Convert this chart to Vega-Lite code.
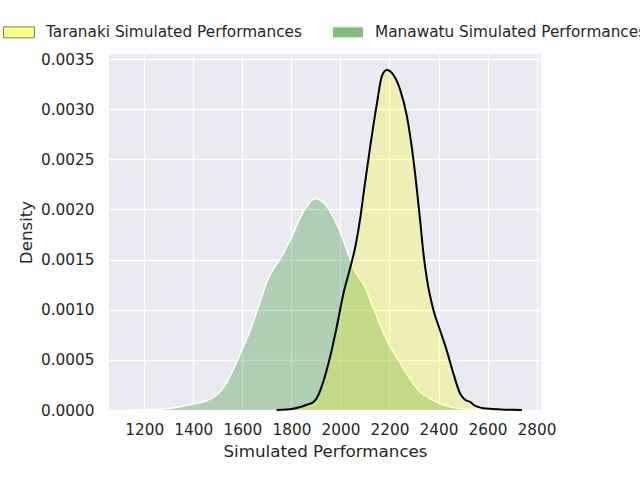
{
  "$schema": "https://vega.github.io/schema/vega-lite/v6.json",
  "width": 432,
  "height": 356,
  "autosize": {"type": "none"},
  "padding": {"left": 109, "top": 54, "right": 99, "bottom": 70},
  "background": "white",
  "config": {
    "view": {"fill": "#eaeaf2", "stroke": null},
    "font": "DejaVu Sans",
    "axis": {
      "grid": true,
      "gridColor": "white",
      "gridWidth": 1.3,
      "domain": false,
      "ticks": false,
      "tickSize": 0,
      "labelColor": "#262626",
      "labelFontSize": 15.3,
      "titleColor": "#262626",
      "titleFontSize": 16.7,
      "titleFontWeight": "normal"
    }
  },
  "data": {
    "values": [
      {"series": "Manawatu Simulated Performances", "x": 1130, "density": 0},
      {"series": "Manawatu Simulated Performances", "x": 1200, "density": 0.000003},
      {"series": "Manawatu Simulated Performances", "x": 1300, "density": 0.000015},
      {"series": "Manawatu Simulated Performances", "x": 1350, "density": 0.000035},
      {"series": "Manawatu Simulated Performances", "x": 1400, "density": 0.00006},
      {"series": "Manawatu Simulated Performances", "x": 1450, "density": 0.00009},
      {"series": "Manawatu Simulated Performances", "x": 1500, "density": 0.00016},
      {"series": "Manawatu Simulated Performances", "x": 1525, "density": 0.00023},
      {"series": "Manawatu Simulated Performances", "x": 1550, "density": 0.00034},
      {"series": "Manawatu Simulated Performances", "x": 1575, "density": 0.00047},
      {"series": "Manawatu Simulated Performances", "x": 1600, "density": 0.00061},
      {"series": "Manawatu Simulated Performances", "x": 1625, "density": 0.00075},
      {"series": "Manawatu Simulated Performances", "x": 1650, "density": 0.00092},
      {"series": "Manawatu Simulated Performances", "x": 1675, "density": 0.0011},
      {"series": "Manawatu Simulated Performances", "x": 1700, "density": 0.00128},
      {"series": "Manawatu Simulated Performances", "x": 1725, "density": 0.0014},
      {"series": "Manawatu Simulated Performances", "x": 1750, "density": 0.00149},
      {"series": "Manawatu Simulated Performances", "x": 1775, "density": 0.0016},
      {"series": "Manawatu Simulated Performances", "x": 1800, "density": 0.00172},
      {"series": "Manawatu Simulated Performances", "x": 1825, "density": 0.00186},
      {"series": "Manawatu Simulated Performances", "x": 1850, "density": 0.00198},
      {"series": "Manawatu Simulated Performances", "x": 1875, "density": 0.00207},
      {"series": "Manawatu Simulated Performances", "x": 1900, "density": 0.00211},
      {"series": "Manawatu Simulated Performances", "x": 1925, "density": 0.00208},
      {"series": "Manawatu Simulated Performances", "x": 1950, "density": 0.00201},
      {"series": "Manawatu Simulated Performances", "x": 1975, "density": 0.0019},
      {"series": "Manawatu Simulated Performances", "x": 2000, "density": 0.00177},
      {"series": "Manawatu Simulated Performances", "x": 2025, "density": 0.0016},
      {"series": "Manawatu Simulated Performances", "x": 2050, "density": 0.00144},
      {"series": "Manawatu Simulated Performances", "x": 2075, "density": 0.00132},
      {"series": "Manawatu Simulated Performances", "x": 2100, "density": 0.00123},
      {"series": "Manawatu Simulated Performances", "x": 2125, "density": 0.00107},
      {"series": "Manawatu Simulated Performances", "x": 2150, "density": 0.00092},
      {"series": "Manawatu Simulated Performances", "x": 2175, "density": 0.00077},
      {"series": "Manawatu Simulated Performances", "x": 2200, "density": 0.00064},
      {"series": "Manawatu Simulated Performances", "x": 2225, "density": 0.00054},
      {"series": "Manawatu Simulated Performances", "x": 2250, "density": 0.00044},
      {"series": "Manawatu Simulated Performances", "x": 2275, "density": 0.00034},
      {"series": "Manawatu Simulated Performances", "x": 2300, "density": 0.00025},
      {"series": "Manawatu Simulated Performances", "x": 2325, "density": 0.00018},
      {"series": "Manawatu Simulated Performances", "x": 2350, "density": 0.00014},
      {"series": "Manawatu Simulated Performances", "x": 2375, "density": 0.0001},
      {"series": "Manawatu Simulated Performances", "x": 2400, "density": 0.00007},
      {"series": "Manawatu Simulated Performances", "x": 2450, "density": 0.00003},
      {"series": "Manawatu Simulated Performances", "x": 2500, "density": 0.000012},
      {"series": "Manawatu Simulated Performances", "x": 2550, "density": 0.000005},
      {"series": "Manawatu Simulated Performances", "x": 2600, "density": 0.000002},
      {"series": "Manawatu Simulated Performances", "x": 2746, "density": 0},
      {"series": "Taranaki Simulated Performances", "x": 1740, "density": 0},
      {"series": "Taranaki Simulated Performances", "x": 1780, "density": 0.000005},
      {"series": "Taranaki Simulated Performances", "x": 1800, "density": 0.00001},
      {"series": "Taranaki Simulated Performances", "x": 1836, "density": 0.00003},
      {"series": "Taranaki Simulated Performances", "x": 1860, "density": 0.00005},
      {"series": "Taranaki Simulated Performances", "x": 1890, "density": 0.00008},
      {"series": "Taranaki Simulated Performances", "x": 1910, "density": 0.00015},
      {"series": "Taranaki Simulated Performances", "x": 1931, "density": 0.00029},
      {"series": "Taranaki Simulated Performances", "x": 1958, "density": 0.00053},
      {"series": "Taranaki Simulated Performances", "x": 1985, "density": 0.00083},
      {"series": "Taranaki Simulated Performances", "x": 2012, "density": 0.00116},
      {"series": "Taranaki Simulated Performances", "x": 2040, "density": 0.00142},
      {"series": "Taranaki Simulated Performances", "x": 2060, "density": 0.00162},
      {"series": "Taranaki Simulated Performances", "x": 2080, "density": 0.0019},
      {"series": "Taranaki Simulated Performances", "x": 2100, "density": 0.00226},
      {"series": "Taranaki Simulated Performances", "x": 2121, "density": 0.00262},
      {"series": "Taranaki Simulated Performances", "x": 2149, "density": 0.00306},
      {"series": "Taranaki Simulated Performances", "x": 2169, "density": 0.00333},
      {"series": "Taranaki Simulated Performances", "x": 2189, "density": 0.00339},
      {"series": "Taranaki Simulated Performances", "x": 2216, "density": 0.00334},
      {"series": "Taranaki Simulated Performances", "x": 2244, "density": 0.00319},
      {"series": "Taranaki Simulated Performances", "x": 2271, "density": 0.00293},
      {"series": "Taranaki Simulated Performances", "x": 2298, "density": 0.00249},
      {"series": "Taranaki Simulated Performances", "x": 2325, "density": 0.00189},
      {"series": "Taranaki Simulated Performances", "x": 2339, "density": 0.00155},
      {"series": "Taranaki Simulated Performances", "x": 2353, "density": 0.0013},
      {"series": "Taranaki Simulated Performances", "x": 2380, "density": 0.00099},
      {"series": "Taranaki Simulated Performances", "x": 2407, "density": 0.00079},
      {"series": "Taranaki Simulated Performances", "x": 2434, "density": 0.00059},
      {"series": "Taranaki Simulated Performances", "x": 2461, "density": 0.00036},
      {"series": "Taranaki Simulated Performances", "x": 2489, "density": 0.00016},
      {"series": "Taranaki Simulated Performances", "x": 2510, "density": 0.0001},
      {"series": "Taranaki Simulated Performances", "x": 2529, "density": 0.00008},
      {"series": "Taranaki Simulated Performances", "x": 2550, "density": 0.00004},
      {"series": "Taranaki Simulated Performances", "x": 2577, "density": 0.00002},
      {"series": "Taranaki Simulated Performances", "x": 2620, "density": 0.00001},
      {"series": "Taranaki Simulated Performances", "x": 2652, "density": 0.000006},
      {"series": "Taranaki Simulated Performances", "x": 2700, "density": 0.000002},
      {"series": "Taranaki Simulated Performances", "x": 2740, "density": 0}
    ]
  },
  "encoding": {
    "x": {
      "field": "x",
      "type": "quantitative",
      "title": "Simulated Performances",
      "scale": {"domain": [1056, 2818], "nice": false, "zero": false},
      "axis": {
        "values": [1200, 1400, 1600, 1800, 2000, 2200, 2400, 2600, 2800],
        "format": "d",
        "labelPadding": 12,
        "titlePadding": 6
      }
    },
    "y": {
      "field": "density",
      "type": "quantitative",
      "title": "Density",
      "scale": {"domain": [0, 0.00355], "nice": false},
      "axis": {
        "values": [0, 0.0005, 0.001, 0.0015, 0.002, 0.0025, 0.003, 0.0035],
        "format": ".4f",
        "labelPadding": 15,
        "titlePadding": 5
      }
    }
  },
  "layer": [
    {
      "transform": [{"filter": "datum.series === 'Manawatu Simulated Performances'"}],
      "mark": {"type": "area", "fillOpacity": 0.25, "interpolate": "monotone"},
      "encoding": {
        "fill": {
          "field": "series",
          "type": "nominal",
          "scale": {
            "domain": ["Taranaki Simulated Performances", "Manawatu Simulated Performances"],
            "range": ["#ffff00", "#008000"]
          },
          "legend": {
            "title": null,
            "orient": "none",
            "legendX": -106,
            "legendY": -38,
            "direction": "horizontal",
            "columns": 2,
            "symbolType": "M-1,-0.355H1V0.355H-1Z",
            "symbolSize": 961,
            "symbolStrokeWidth": 1,
            "labelFontSize": 15.3,
            "labelColor": "#262626",
            "labelOffset": 11,
            "labelLimit": 500,
            "columnPadding": 28,
            "encode": {
              "symbols": {
                "update": {
                  "opacity": {"value": 0.5},
                  "fillOpacity": {"value": 1},
                  "stroke": [
                    {"test": "datum.value === 'Taranaki Simulated Performances'", "value": "black"},
                    {"value": "white"}
                  ]
                }
              }
            }
          }
        }
      }
    },
    {
      "transform": [{"filter": "datum.series === 'Manawatu Simulated Performances'"}],
      "mark": {"type": "line", "color": "white", "strokeWidth": 1.5, "interpolate": "monotone"}
    },
    {
      "transform": [{"filter": "datum.series === 'Taranaki Simulated Performances'"}],
      "mark": {"type": "area", "fillOpacity": 0.25, "interpolate": "monotone"},
      "encoding": {
        "fill": {"field": "series", "type": "nominal"}
      }
    },
    {
      "transform": [{"filter": "datum.series === 'Taranaki Simulated Performances'"}],
      "mark": {"type": "line", "color": "black", "strokeWidth": 2, "interpolate": "monotone"}
    }
  ]
}
